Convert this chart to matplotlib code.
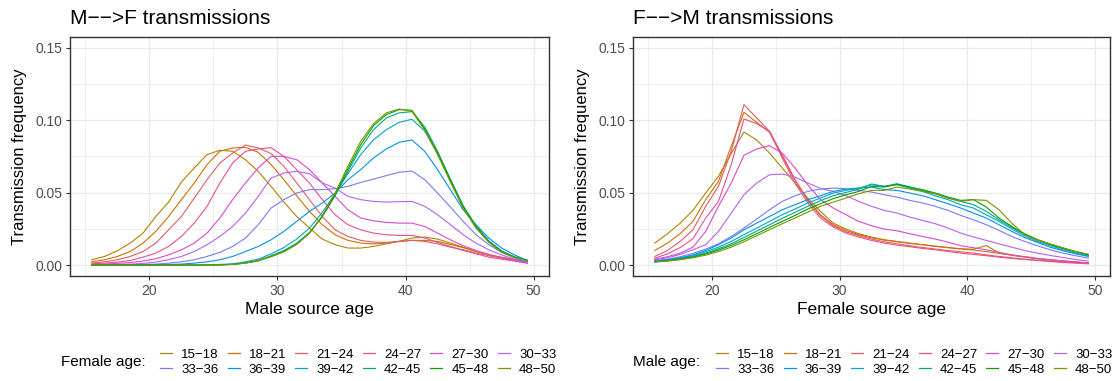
import numpy as np
import matplotlib
matplotlib.use("Agg")
import matplotlib.pyplot as plt
from matplotlib.lines import Line2D
from matplotlib.ticker import MultipleLocator

plt.rcParams['font.family'] = ['Liberation Sans', 'DejaVu Sans']

# ages at which the frequencies are given
ages = np.arange(15.5, 50, 1.0)

groups = ["15\u221218", "18\u221221", "21\u221224", "24\u221227", "27\u221230", "30\u221233",
          "33\u221236", "36\u221239", "39\u221242", "42\u221245", "45\u221248", "48\u221250"]

# M-->F : frequency by male source age, one list per female age group
mf_15_18 = [0.0037, 0.0060, 0.0099, 0.0152, 0.0221, 0.0336, 0.0435, 0.0574, 0.0671, 0.0763, 0.0793, 0.0786,
            0.0728, 0.0647, 0.0544, 0.0435, 0.0336, 0.0256, 0.0180, 0.0141, 0.0118, 0.0118, 0.0129, 0.0147,
            0.0164, 0.0187, 0.0194, 0.0180, 0.0152, 0.0124, 0.0094, 0.0071, 0.0053, 0.0037, 0.0025]
mf_18_21 = [0.0023, 0.0037, 0.0060, 0.0094, 0.0152, 0.0233, 0.0336, 0.0452, 0.0567, 0.0694, 0.0786, 0.0809,
            0.0813, 0.0779, 0.0694, 0.0590, 0.0479, 0.0371, 0.0279, 0.0210, 0.0171, 0.0152, 0.0147, 0.0152,
            0.0164, 0.0171, 0.0171, 0.0164, 0.0143, 0.0120, 0.0094, 0.0071, 0.0055, 0.0039, 0.0028]
mf_21_24 = [0.0014, 0.0023, 0.0037, 0.0060, 0.0094, 0.0152, 0.0244, 0.0336, 0.0463, 0.0590, 0.0705, 0.0774,
            0.0829, 0.0809, 0.0770, 0.0682, 0.0567, 0.0452, 0.0336, 0.0244, 0.0198, 0.0171, 0.0159, 0.0157,
            0.0164, 0.0171, 0.0164, 0.0147, 0.0124, 0.0106, 0.0083, 0.0065, 0.0048, 0.0032, 0.0018]
mf_24_27 = [0.0009, 0.0014, 0.0021, 0.0032, 0.0055, 0.0083, 0.0129, 0.0198, 0.0290, 0.0406, 0.0567, 0.0705,
            0.0786, 0.0802, 0.0811, 0.0751, 0.0659, 0.0567, 0.0452, 0.0348, 0.0279, 0.0244, 0.0221, 0.0210,
            0.0205, 0.0205, 0.0187, 0.0157, 0.0129, 0.0101, 0.0078, 0.0055, 0.0041, 0.0028, 0.0014]
mf_27_30 = [0.0005, 0.0007, 0.0012, 0.0018, 0.0028, 0.0044, 0.0071, 0.0106, 0.0152, 0.0221, 0.0325, 0.0452,
            0.0567, 0.0671, 0.0751, 0.0751, 0.0728, 0.0659, 0.0567, 0.0475, 0.0382, 0.0325, 0.0306, 0.0295,
            0.0290, 0.0290, 0.0267, 0.0221, 0.0175, 0.0134, 0.0101, 0.0074, 0.0051, 0.0032, 0.0014]
mf_30_33 = [0.0002, 0.0002, 0.0005, 0.0007, 0.0012, 0.0021, 0.0037, 0.0060, 0.0094, 0.0141, 0.0198, 0.0267,
            0.0359, 0.0475, 0.0601, 0.0636, 0.0647, 0.0631, 0.0567, 0.0532, 0.0475, 0.0452, 0.0440, 0.0435,
            0.0438, 0.0440, 0.0406, 0.0348, 0.0279, 0.0210, 0.0152, 0.0106, 0.0071, 0.0041, 0.0018]
mf_33_36 = [0.0000, 0.0000, 0.0002, 0.0002, 0.0005, 0.0007, 0.0014, 0.0023, 0.0037, 0.0060, 0.0088, 0.0129,
            0.0187, 0.0279, 0.0394, 0.0452, 0.0498, 0.0521, 0.0521, 0.0528, 0.0544, 0.0571, 0.0594, 0.0618,
            0.0641, 0.0650, 0.0590, 0.0498, 0.0401, 0.0302, 0.0210, 0.0141, 0.0088, 0.0051, 0.0023]
mf_36_39 = [0.0000, 0.0000, 0.0000, 0.0000, 0.0002, 0.0002, 0.0005, 0.0007, 0.0014, 0.0023, 0.0037, 0.0060,
            0.0094, 0.0129, 0.0175, 0.0233, 0.0302, 0.0371, 0.0429, 0.0498, 0.0590, 0.0659, 0.0740, 0.0802,
            0.0848, 0.0864, 0.0786, 0.0659, 0.0521, 0.0382, 0.0279, 0.0187, 0.0118, 0.0071, 0.0032]
mf_39_42 = [0.0000, 0.0000, 0.0000, 0.0000, 0.0000, 0.0000, 0.0000, 0.0000, 0.0000, 0.0002, 0.0005, 0.0009,
            0.0023, 0.0041, 0.0078, 0.0122, 0.0180, 0.0256, 0.0364, 0.0493, 0.0631, 0.0763, 0.0866, 0.0935,
            0.0986, 0.1007, 0.0924, 0.0774, 0.0590, 0.0406, 0.0267, 0.0164, 0.0094, 0.0055, 0.0032]
mf_42_45 = [0.0000, 0.0000, 0.0000, 0.0000, 0.0000, 0.0000, 0.0000, 0.0000, 0.0000, 0.0000, 0.0002, 0.0005,
            0.0016, 0.0032, 0.0065, 0.0101, 0.0152, 0.0226, 0.0336, 0.0479, 0.0647, 0.0809, 0.0935, 0.1016,
            0.1051, 0.1060, 0.0954, 0.0786, 0.0594, 0.0410, 0.0272, 0.0168, 0.0099, 0.0058, 0.0035]
mf_45_48 = [0.0000, 0.0000, 0.0000, 0.0000, 0.0000, 0.0000, 0.0000, 0.0000, 0.0000, 0.0000, 0.0002, 0.0005,
            0.0014, 0.0030, 0.0060, 0.0094, 0.0145, 0.0221, 0.0336, 0.0486, 0.0664, 0.0832, 0.0963, 0.1039,
            0.1074, 0.1069, 0.0940, 0.0774, 0.0585, 0.0401, 0.0263, 0.0161, 0.0094, 0.0055, 0.0032]
mf_48_50 = [0.0000, 0.0000, 0.0000, 0.0000, 0.0000, 0.0000, 0.0000, 0.0000, 0.0000, 0.0000, 0.0002, 0.0005,
            0.0014, 0.0030, 0.0058, 0.0092, 0.0143, 0.0221, 0.0341, 0.0498, 0.0682, 0.0855, 0.0977, 0.1051,
            0.1078, 0.1062, 0.0931, 0.0763, 0.0574, 0.0392, 0.0256, 0.0157, 0.0090, 0.0053, 0.0030]

# F-->M : frequency by female source age, one list per male age group
fm_15_18 = [0.0152, 0.0217, 0.0290, 0.0378, 0.0498, 0.0613, 0.0770, 0.0919, 0.0864, 0.0774, 0.0671, 0.0567,
            0.0463, 0.0371, 0.0290, 0.0249, 0.0217, 0.0194, 0.0175, 0.0164, 0.0152, 0.0141, 0.0130, 0.0120,
            0.0112, 0.0110, 0.0135, 0.0085, 0.0068, 0.0055, 0.0045, 0.0036, 0.0028, 0.0021, 0.0015]
fm_18_21 = [0.0101, 0.0152, 0.0217, 0.0302, 0.0452, 0.0578, 0.0820, 0.1055, 0.0986, 0.0917, 0.0751, 0.0590,
            0.0452, 0.0348, 0.0279, 0.0240, 0.0210, 0.0189, 0.0173, 0.0161, 0.0150, 0.0141, 0.0131, 0.0122,
            0.0113, 0.0104, 0.0094, 0.0081, 0.0069, 0.0058, 0.0046, 0.0037, 0.0028, 0.0021, 0.0014]
fm_21_24 = [0.0060, 0.0101, 0.0164, 0.0244, 0.0406, 0.0544, 0.0786, 0.1108, 0.1016, 0.0924, 0.0740, 0.0567,
            0.0429, 0.0325, 0.0263, 0.0221, 0.0194, 0.0171, 0.0152, 0.0138, 0.0127, 0.0115, 0.0106, 0.0094,
            0.0083, 0.0074, 0.0065, 0.0055, 0.0046, 0.0039, 0.0032, 0.0025, 0.0018, 0.0014, 0.0009]
fm_24_27 = [0.0048, 0.0078, 0.0122, 0.0182, 0.0325, 0.0440, 0.0694, 0.1009, 0.0977, 0.0924, 0.0763, 0.0590,
            0.0445, 0.0341, 0.0272, 0.0230, 0.0203, 0.0180, 0.0161, 0.0147, 0.0134, 0.0122, 0.0111, 0.0101,
            0.0092, 0.0083, 0.0071, 0.0060, 0.0051, 0.0041, 0.0035, 0.0028, 0.0021, 0.0016, 0.0012]
fm_27_30 = [0.0041, 0.0058, 0.0083, 0.0124, 0.0233, 0.0406, 0.0567, 0.0758, 0.0802, 0.0825, 0.0774, 0.0671,
            0.0555, 0.0452, 0.0394, 0.0348, 0.0302, 0.0272, 0.0249, 0.0237, 0.0217, 0.0198, 0.0180, 0.0159,
            0.0134, 0.0120, 0.0106, 0.0088, 0.0071, 0.0058, 0.0046, 0.0037, 0.0030, 0.0023, 0.0016]
fm_30_33 = [0.0037, 0.0051, 0.0074, 0.0106, 0.0141, 0.0233, 0.0359, 0.0486, 0.0567, 0.0624, 0.0629, 0.0608,
            0.0567, 0.0530, 0.0509, 0.0479, 0.0440, 0.0406, 0.0378, 0.0359, 0.0332, 0.0309, 0.0286, 0.0256,
            0.0221, 0.0194, 0.0171, 0.0147, 0.0124, 0.0101, 0.0083, 0.0067, 0.0053, 0.0039, 0.0028]
fm_33_36 = [0.0032, 0.0041, 0.0058, 0.0081, 0.0111, 0.0147, 0.0198, 0.0256, 0.0318, 0.0382, 0.0440, 0.0479,
            0.0509, 0.0525, 0.0532, 0.0528, 0.0516, 0.0505, 0.0486, 0.0470, 0.0447, 0.0429, 0.0406, 0.0378,
            0.0343, 0.0313, 0.0279, 0.0240, 0.0198, 0.0164, 0.0134, 0.0106, 0.0083, 0.0065, 0.0048]
fm_36_39 = [0.0028, 0.0037, 0.0051, 0.0071, 0.0101, 0.0141, 0.0187, 0.0244, 0.0290, 0.0336, 0.0382, 0.0417,
            0.0452, 0.0479, 0.0509, 0.0525, 0.0532, 0.0539, 0.0521, 0.0516, 0.0498, 0.0479, 0.0452, 0.0424,
            0.0394, 0.0359, 0.0325, 0.0279, 0.0233, 0.0191, 0.0157, 0.0124, 0.0099, 0.0078, 0.0060]
fm_39_42 = [0.0025, 0.0035, 0.0046, 0.0065, 0.0092, 0.0124, 0.0164, 0.0210, 0.0256, 0.0302, 0.0348, 0.0387,
            0.0429, 0.0463, 0.0498, 0.0516, 0.0532, 0.0555, 0.0544, 0.0555, 0.0532, 0.0509, 0.0479, 0.0452,
            0.0417, 0.0394, 0.0348, 0.0302, 0.0249, 0.0203, 0.0164, 0.0134, 0.0106, 0.0083, 0.0065]
fm_42_45 = [0.0023, 0.0032, 0.0044, 0.0060, 0.0083, 0.0113, 0.0147, 0.0191, 0.0235, 0.0279, 0.0323, 0.0364,
            0.0406, 0.0445, 0.0479, 0.0502, 0.0525, 0.0560, 0.0544, 0.0562, 0.0539, 0.0516, 0.0493, 0.0463,
            0.0440, 0.0417, 0.0371, 0.0313, 0.0260, 0.0212, 0.0173, 0.0141, 0.0113, 0.0090, 0.0069]
fm_45_48 = [0.0023, 0.0030, 0.0041, 0.0055, 0.0076, 0.0104, 0.0136, 0.0175, 0.0217, 0.0260, 0.0302, 0.0343,
            0.0387, 0.0424, 0.0459, 0.0486, 0.0509, 0.0544, 0.0539, 0.0558, 0.0539, 0.0521, 0.0498, 0.0470,
            0.0447, 0.0452, 0.0401, 0.0325, 0.0267, 0.0217, 0.0177, 0.0145, 0.0118, 0.0094, 0.0074]
fm_48_50 = [0.0021, 0.0028, 0.0037, 0.0051, 0.0069, 0.0094, 0.0124, 0.0161, 0.0203, 0.0244, 0.0286, 0.0325,
            0.0366, 0.0406, 0.0435, 0.0463, 0.0493, 0.0516, 0.0516, 0.0539, 0.0525, 0.0509, 0.0493, 0.0463,
            0.0440, 0.0452, 0.0447, 0.0382, 0.0290, 0.0210, 0.0175, 0.0147, 0.0120, 0.0094, 0.0074]

mf = [mf_15_18, mf_18_21, mf_21_24, mf_24_27, mf_27_30, mf_30_33,
      mf_33_36, mf_36_39, mf_39_42, mf_42_45, mf_45_48, mf_48_50]
fm = [fm_15_18, fm_18_21, fm_21_24, fm_24_27, fm_27_30, fm_30_33,
      fm_33_36, fm_36_39, fm_39_42, fm_42_45, fm_45_48, fm_48_50]


def hcl(h, c=100, l=57):
    # polar LUV -> sRGB, like R's hcl()
    h = np.radians(h)
    u, v = c * np.cos(h), c * np.sin(h)
    xn, yn, zn = 95.047, 100.0, 108.883
    un = 4 * xn / (xn + 15 * yn + 3 * zn)
    vn = 9 * yn / (xn + 15 * yn + 3 * zn)
    y = yn * ((l + 16) / 116) ** 3 if l > 8 else yn * l / 903.3
    up, vp = u / (13 * l) + un, v / (13 * l) + vn
    x = 9 * y * up / (4 * vp)
    z = y * (12 - 3 * up - 20 * vp) / (4 * vp)
    xyz = np.array([x, y, z]) / 100
    m = np.array([[3.2406, -1.5372, -0.4986],
                  [-0.9689, 1.8758, 0.0415],
                  [0.0557, -0.2040, 1.0570]])
    rgb = np.clip(m @ xyz, 0, 1)
    rgb = np.where(rgb <= 0.0031308, 12.92 * rgb, 1.055 * rgb ** (1 / 2.4) - 0.055)
    return tuple(np.clip(rgb, 0, 1))


hues = [65, 35, 10, 350, 315, 288, 265, 242, 210, 170, 130, 95]
colors = [hcl(h) for h in hues]

W, H = 1117, 381
fig = plt.figure(figsize=(W / 100, H / 100), dpi=100)
ax1 = fig.add_axes([70 / W, 1 - 276 / H, 479 / W, 239 / H])
ax2 = fig.add_axes([633 / W, 1 - 276 / H, 477 / W, 239 / H])

panels = [(ax1, mf, "M\u2212\u2212>F transmissions", "Male source age"),
          (ax2, fm, "F\u2212\u2212>M transmissions", "Female source age")]

for ax, data, title, xlab in panels:
    for vals, col in zip(data, colors):
        ax.plot(ages, vals, color=col, lw=0.8)
    ax.set_xlim(13.8, 51.2)
    ax.set_ylim(-0.0075, 0.1575)
    ax.xaxis.set_major_locator(MultipleLocator(10))
    ax.xaxis.set_minor_locator(MultipleLocator(5))
    ax.set_yticks([0, 0.05, 0.10, 0.15])
    ax.set_yticklabels(["0.00", "0.05", "0.10", "0.15"])
    ax.yaxis.set_minor_locator(MultipleLocator(0.025))
    ax.grid(which='major', color='#EBEBEB', lw=1.0)
    ax.grid(which='minor', color='#EBEBEB', lw=0.55)
    ax.set_axisbelow(True)
    ax.tick_params(which='major', length=3, width=0.8, color='#333333',
                   labelsize=10, labelcolor='#4D4D4D', pad=2.5)
    ax.tick_params(which='minor', length=0)
    for s in ax.spines.values():
        s.set_color('#333333')
        s.set_linewidth(1.0)
    ax.set_title(title, loc='left', fontsize=15, pad=9)
    ax.set_xlabel(xlab, fontsize=12.5, labelpad=3)
    ax.set_ylabel("Transmission frequency", fontsize=12, labelpad=6)

# legends: two rows of six, filled row by row
order = [0, 6, 1, 7, 2, 8, 3, 9, 4, 10, 5, 11]
handles = [Line2D([], [], color=colors[i], lw=0.9) for i in order]
labels = [groups[i] for i in order]

for x_title, x_leg, ltitle in [(61, 160, "Female age:"), (633, 716, "Male age:")]:
    fig.text(x_title / W, 1 - 362 / H, ltitle, fontsize=11, va='center', ha='left')
    fig.legend(handles, labels, loc='center left', bbox_to_anchor=(x_leg / W, 1 - 362 / H),
               ncol=6, frameon=False, fontsize=9.5, handlelength=0.9, handletextpad=0.7,
               columnspacing=0.69, labelspacing=0.22, borderaxespad=0, borderpad=0)

fig.savefig("out.png", dpi=100)
